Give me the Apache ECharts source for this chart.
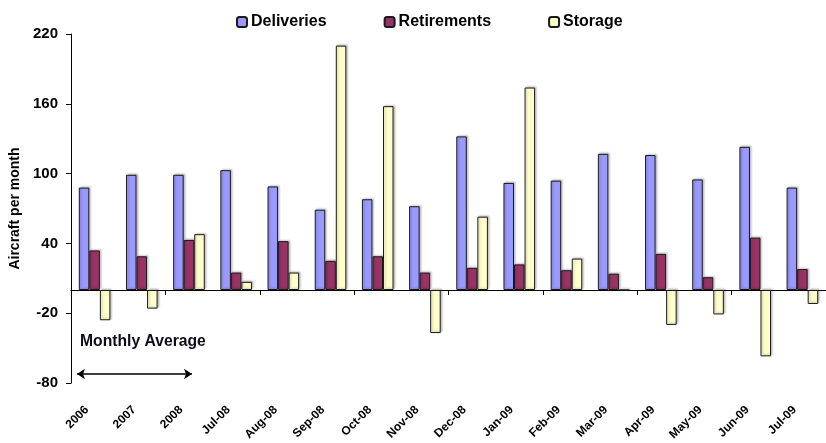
<!DOCTYPE html>
<html>
<head>
<meta charset="utf-8">
<script src="https://cdn.jsdelivr.net/npm/echarts@6/dist/echarts.min.js"></script>
<style>
  html, body { margin: 0; padding: 0; background: #fff; }
  #chart { width: 826px; height: 443px; }
</style>
</head>
<body>
<div id="chart"></div>
<script>
// Categories along the x axis
const categories = ['2006', '2007', '2008', 'Jul-08', 'Aug-08', 'Sep-08', 'Oct-08', 'Nov-08',
  'Dec-08', 'Jan-09', 'Feb-09', 'Mar-09', 'Apr-09', 'May-09', 'Jun-09', 'Jul-09'];

// Aircraft per month
const deliveries  = [88, 99, 99, 103, 89, 69, 78, 72, 132, 92, 94, 117, 116, 95, 123, 88];
const retirements = [34, 29, 43, 15, 42, 25, 29, 15, 19, 22, 17, 14, 31, 11, 45, 18];
const storage     = [-26, -16, 48, 7, 15, 210, 158, -37, 63, 174, 27, 0, -30, -21, -57, -12];

// Value axis tick labels
const yTicks = [-80, -20, 40, 100, 160, 220];

const FONT = 'Arial, "Liberation Sans", sans-serif';
const barBorder = { borderColor: '#1a1a1a', borderWidth: 1,
  shadowColor: 'rgba(0,0,0,0.22)', shadowBlur: 2, shadowOffsetX: 1.5, shadowOffsetY: -1 };

const chart = echarts.init(document.getElementById('chart'), null, { renderer: 'canvas' });

chart.setOption({
  animation: false,
  backgroundColor: '#ffffff',
  textStyle: { fontFamily: FONT },
  legend: {
    left: 236, top: 14, padding: 0,
    itemWidth: 10, itemHeight: 10, itemGap: 57,
    textStyle: { fontFamily: FONT, fontSize: 16, fontWeight: 'bold', color: '#000', padding: [0, 0, 0, -1] },
    data: ['Deliveries', 'Retirements', 'Storage']
  },
  grid: { left: 71, right: -8, top: 34, bottom: 59 },
  xAxis: [
    {
      // labels along the bottom edge
      type: 'category', data: categories,
      axisLine: { show: false, onZero: false }, axisTick: { show: false },
      axisLabel: { rotate: 45, margin: 17, padding: [0, 11, 0, 0], fontFamily: FONT, fontSize: 12,
        fontWeight: 'bold', color: '#000', interval: 0 }
    },
    {
      // axis line and category ticks at zero
      type: 'category', data: categories, position: 'bottom',
      axisLine: { show: true, onZero: true, lineStyle: { color: '#000', width: 1 } },
      axisTick: { show: true, length: 5, lineStyle: { color: '#000' } },
      axisLabel: { show: false }
    }
  ],
  yAxis: {
    type: 'value',
    min: yTicks[0], max: yTicks[yTicks.length - 1], interval: yTicks[1] - yTicks[0],
    name: 'Aircraft per month', nameLocation: 'middle', nameGap: 46,
    nameTextStyle: { fontFamily: FONT, fontSize: 14, fontWeight: 'bold', color: '#000' },
    splitLine: { show: false },
    axisLine: { show: true, lineStyle: { color: '#000' } },
    axisTick: { show: true, length: 5, lineStyle: { color: '#000' } },
    axisLabel: { fontFamily: FONT, fontSize: 15, fontWeight: 'bold', color: '#000', margin: 13 }
  },
  series: [
    { name: 'Deliveries', type: 'bar', data: deliveries, barGap: '0%', barCategoryGap: '33%',
      itemStyle: Object.assign({ color: '#9999ff' }, barBorder) },
    { name: 'Retirements', type: 'bar', data: retirements,
      itemStyle: Object.assign({ color: '#993366' }, barBorder) },
    { name: 'Storage', type: 'bar', data: storage,
      itemStyle: Object.assign({ color: '#ffffcc' }, barBorder),
      markLine: {
        silent: true, symbol: ['arrow', 'arrow'], symbolSize: [8, 8],
        label: { show: false },
        lineStyle: { color: '#000', width: 1.5, type: 'solid' },
        data: [[{ x: 77, y: 374 }, { x: 192, y: 374 }]]
      }
    }
  ],
  graphic: [
    { type: 'text', left: 80, top: 334,
      style: { text: 'Monthly Average', font: 'bold 15.7px ' + FONT, fill: '#0d0d1a' } }
  ]
});
</script>
</body>
</html>
